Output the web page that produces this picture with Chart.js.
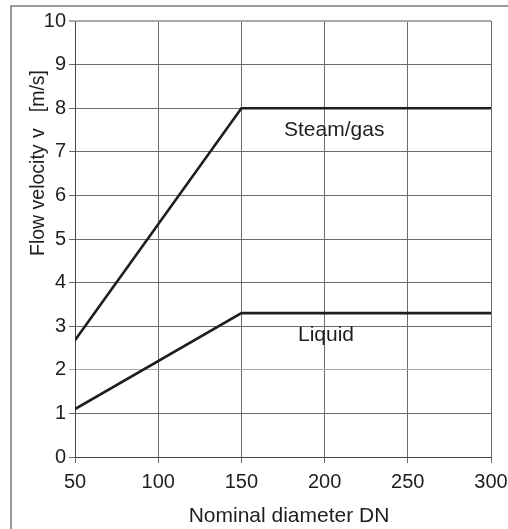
<!DOCTYPE html>
<html><head><meta charset="utf-8">
<script src="https://cdn.jsdelivr.net/npm/chart.js@4"></script>
<style>html,body{margin:0;padding:0;background:#fff;}#wrap{width:508px;height:529px;position:relative;}</style>
</head><body><div id="wrap"><canvas id="c" width="508" height="529"></canvas></div>
<script>
const diameterDN = [50, 150, 300];
const steamGas = [2.68, 8.0, 8.0];
const liquid = [1.1, 3.3, 3.3];
const xTickValues = [50, 100, 150, 200, 250, 300];
const yTickValues = [0, 1, 2, 3, 4, 5, 6, 7, 8, 9, 10];
const curveLabels = ['Steam/gas', 'Liquid'];
const curveLabelX = [175.6, 184];
const curveLabelY = [7.36, 2.66];
const xTitle = 'Nominal diameter DN';
const yTitleParts = ['Flow velocity', 'v', '[m/s]'];

const FONT = "'Liberation Sans', Arial, Helvetica, sans-serif";
const INK = '#1e1e1e';

const toPts = (xs, ys) => xs.map((x, i) => ({x: x, y: ys[i]}));

const decor = {
  id: 'decor',
  beforeDraw(chart) {
    const ctx = chart.ctx;
    ctx.save();
    ctx.fillStyle = '#fff';
    ctx.fillRect(0, 0, chart.width, chart.height);
    ctx.strokeStyle = '#7a7a7a';
    ctx.lineWidth = 1.5;
    ctx.beginPath();
    ctx.moveTo(11, chart.height);
    ctx.lineTo(11, 6);
    ctx.lineTo(chart.width, 6);
    ctx.stroke();
    ctx.restore();
  },
  afterDatasetsDraw(chart) {
    const ctx = chart.ctx;
    const xs = chart.scales.x, ys = chart.scales.y;
    ctx.save();
    ctx.fillStyle = INK;
    ctx.font = '21px ' + FONT;
    ctx.textAlign = 'left';
    ctx.textBaseline = 'alphabetic';
    curveLabels.forEach((t, i) => {
      ctx.fillText(t, xs.getPixelForValue(curveLabelX[i]), ys.getPixelForValue(curveLabelY[i]));
    });
    // x title
    ctx.font = '21px ' + FONT;
    ctx.textAlign = 'center';
    ctx.fillText(xTitle, 289, 522);
    // y title (rotated)
    ctx.translate(44, 0);
    ctx.rotate(-Math.PI / 2);
    ctx.font = '19.5px ' + FONT;
    ctx.textAlign = 'left';
    ctx.fillText(yTitleParts[0], -256, 0);
    ctx.textAlign = 'center';
    ctx.fillText(yTitleParts[1], -133, 0);
    ctx.textAlign = 'right';
    ctx.fillText(yTitleParts[2], -70, 0);
    ctx.restore();
  }
};

const gridColor = (ctx) => {
  const v = ctx.tick ? ctx.tick.value : null;
  if (ctx.scale.axis === 'y' && (v === 10 || v === 2)) return '#a8a8a8';
  return '#6a6a6a';
};

new Chart(document.getElementById('c'), {
  type: 'line',
  data: {
    datasets: [
      {label: 'Steam/gas', data: toPts(diameterDN, steamGas), borderColor: INK, borderWidth: 2.6, pointRadius: 0, tension: 0, fill: false},
      {label: 'Liquid', data: toPts(diameterDN, liquid), borderColor: INK, borderWidth: 2.6, pointRadius: 0, tension: 0, fill: false}
    ]
  },
  options: {
    responsive: false,
    devicePixelRatio: 1,
    animation: false,
    layout: {padding: {top: 21, right: 17, left: 0, bottom: 0}},
    plugins: {legend: {display: false}, tooltip: {enabled: false}},
    scales: {
      x: {
        type: 'linear', min: 50, max: 300,
        afterBuildTicks: (s) => { s.ticks = xTickValues.map(v => ({value: v})); },
        afterFit: (s) => { s.height = 72; s.paddingLeft = 0; s.paddingRight = 0; },
        ticks: {color: INK, font: {family: FONT, size: 20}, padding: 7, maxRotation: 0, autoSkip: false},
        grid: {color: gridColor, lineWidth: 1, tickLength: 6, drawTicks: true},
        border: {display: true, color: '#444', width: 1}
      },
      y: {
        type: 'linear', min: 0, max: 10,
        afterBuildTicks: (s) => { s.ticks = yTickValues.map(v => ({value: v})); },
        afterFit: (s) => { s.width = 75; s.paddingTop = 0; s.paddingBottom = 0; },
        ticks: {color: INK, font: {family: FONT, size: 20}, padding: 3, autoSkip: false},
        grid: {color: gridColor, lineWidth: (c) => (c.tick && c.tick.value === 10 ? 2 : 1), tickLength: 6},
        border: {display: true, color: '#444', width: 1}
      }
    }
  },
  plugins: [decor]
});
</script></body></html>
